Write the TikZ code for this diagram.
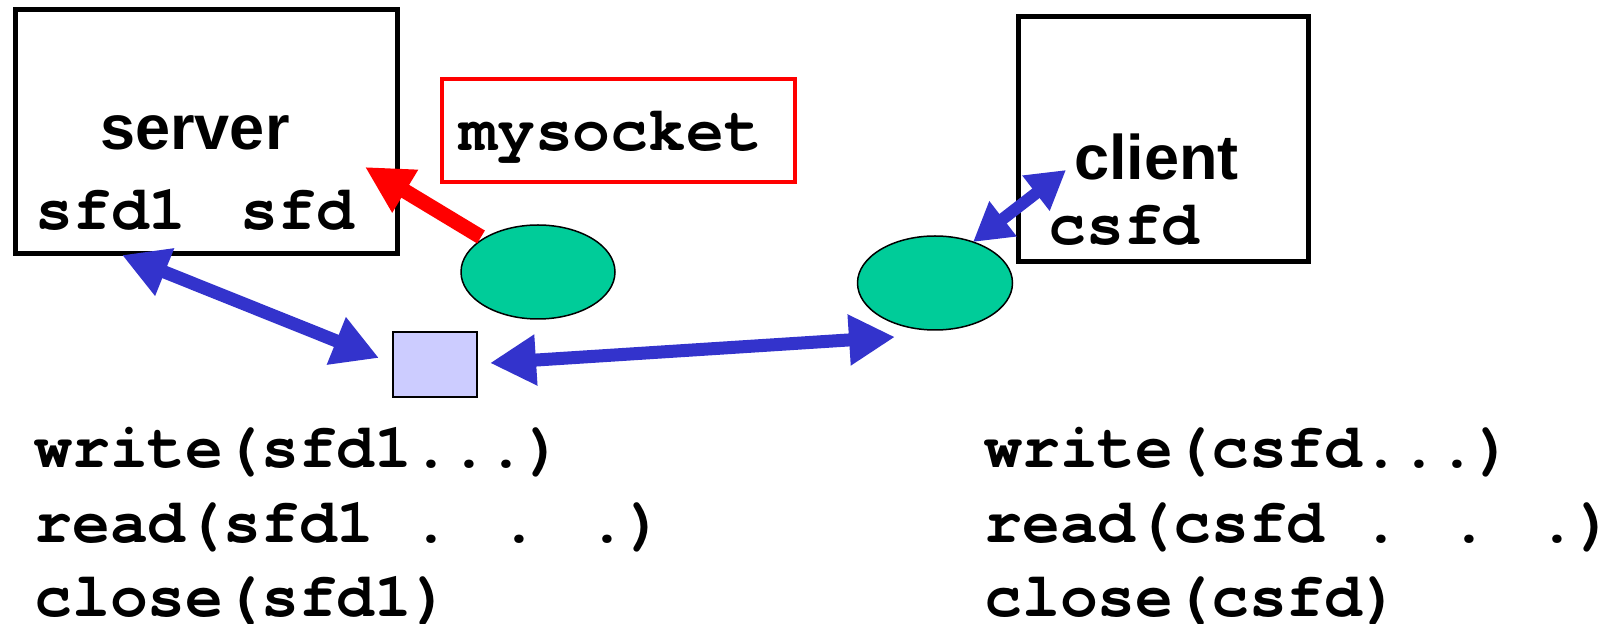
\documentclass[tikz,border=0pt]{standalone}
\usepackage{fontspec}
\newfontfamily\courb{texgyrecursor-bold.otf}
\newfontfamily\arialb{Liberation Sans}[BoldFont=* Bold]
\usetikzlibrary{arrows.meta,shapes.geometric,calc}
\definecolor{sockblue}{HTML}{3333CC}
\definecolor{sockgreen}{HTML}{00CC99}
\definecolor{sqfill}{HTML}{CCCCFF}
\newcommand\codefont{\courb\fontsize{31.5}{31.5}\selectfont\fontdimen2\font=0.6em\fontdimen3\font=0pt\fontdimen4\font=0pt\relax}
\begin{document}
\begin{tikzpicture}[x=0.5pt,y=-0.5pt,
  hostbox/.style={draw=black,line width=2.5pt,rectangle,inner sep=0pt},
  code/.style={font=\codefont,inner sep=0pt,anchor=base west},
  lab/.style={font=\arialb\bfseries\fontsize{31.5}{31.5}\selectfont,inner sep=0pt,anchor=base west},
  barrow/.style={draw=sockblue,line width=6.5pt,{Triangle[length=23pt,width=24pt]}-{Triangle[length=23pt,width=24pt]}},
]
\useasboundingbox (0,0) rectangle (1601,624);
% boxes
\node[hostbox,minimum width=191pt,minimum height=122pt] (server) at (206,132) {};
\node[hostbox,minimum width=145pt,minimum height=122.5pt] (client) at (1163,139.5) {};
\node[draw=red,line width=2pt,rectangle,inner sep=0pt,minimum width=176.5pt,minimum height=51.5pt] (mysock) at (618.5,130.5) {};
% labels
\node[lab,anchor=base] (srvlab) at (195,150) {server};
\node[code] (sfd1) at (35,230) {sfd1};
\node[code] (sfd) at (240,230) {sfd};
\node[code] (mysocklab) at (459,151) {mysocket};
\node[lab] (clilab) at (1074,180) {client};
\node[code] (csfd) at (1048,245) {csfd};
% sockets
\node[ellipse,draw=black,line width=0.75pt,fill=sockgreen,minimum width=77pt,minimum height=47pt,inner sep=0pt] (ssock) at (538,272) {};
\node[ellipse,draw=black,line width=0.75pt,fill=sockgreen,minimum width=77.5pt,minimum height=47pt,inner sep=0pt] (csock) at (935,283) {};
\node[draw=black,line width=0.75pt,fill=sqfill,minimum width=42pt,minimum height=32.5pt,inner sep=0pt] (sq) at (435,364.5) {};
% arrow end points
\coordinate (srvtip) at (122,255);
\coordinate (sqtipL) at (379,358);
\coordinate (sqtipR) at (490,363);
\coordinate (cstipL) at (895,337);
\coordinate (csocktop) at (973,242);
\coordinate (clitip) at (1066,170);
\coordinate (redtail) at (481,237);
\coordinate (redtip) at (365,167);
% arrows
\draw[barrow] (srvtip) -- (sqtipL);
\draw[barrow] (sqtipR) -- (cstipL);
\draw[draw=sockblue,line width=6pt,{Triangle[length=19pt,width=21pt]}-{Triangle[length=19pt,width=21pt]}] (csocktop) -- (clitip);
\draw[draw=red,line width=7.5pt,-{Triangle[length=23.5pt,width=23.5pt]}] (redtail) -- (redtip);
% code lines
\node[code] (w1) at (34,468) {write(sfd1...)};
\node[code] (r1) at (34,543) {read(sfd1 . . .)};
\node[code] (c1) at (34,617) {close(sfd1)};
\node[code] (w2) at (984,468) {write(csfd...)};
\node[code] (r2) at (984,543) {read(csfd . . .)};
\node[code] (c2) at (984,617) {close(csfd)};
\end{tikzpicture}
\end{document}
